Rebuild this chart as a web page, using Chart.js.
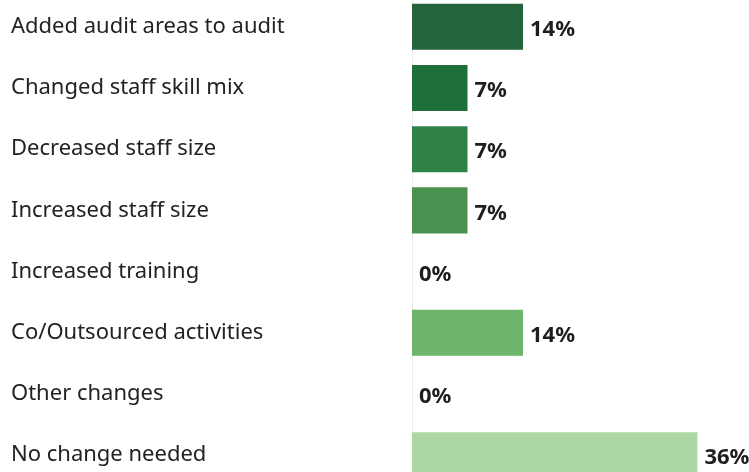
<!DOCTYPE html>
<html>
<head>
<meta charset="utf-8">
<script src="https://cdn.jsdelivr.net/npm/chart.js@4"></script>
<style>
    html, body { margin: 0; padding: 0; background: #fff; overflow: hidden; }
    #wrap { position: absolute; left: 0; top: -17px; width: 749px; height: 516px; }
</style>
</head>
<body>
<div id="wrap"><canvas id="changesChart"></canvas></div>
<script>
//################# Data #################
const categories = [
    'Added audit areas to audit',
    'Changed staff skill mix',
    'Decreased staff size',
    'Increased staff size',
    'Increased training',
    'Co/Outsourced activities',
    'Other changes',
    'No change needed',
];
const shares = [14, 7, 7, 7, 0, 14, 0, 36];
const barColors = ['#23643b', '#1f6f3a', '#2e8248', '#4a9250', '#5fa35c', '#6db56a', '#8dc782', '#acd7a2'];

//################# Value labels after each bar #################
const valueLabels = {
    id: 'valueLabels',
    afterDatasetsDraw(chart) {
        const ctx = chart.ctx;
        const meta = chart.getDatasetMeta(0);
        ctx.save();
        ctx.font = 'bold 22px "Noto Sans"';
        ctx.fillStyle = '#1e1e1e';
        ctx.textAlign = 'left';
        ctx.textBaseline = 'middle';
        meta.data.forEach((bar, i) => {
            ctx.fillText(shares[i] + '%', bar.x + 7, bar.y + 3);
        });
        ctx.restore();
    }
};

//################# Chart #################
new Chart(document.getElementById('changesChart'), {
    type: 'bar',
    data: {
        labels: categories,
        datasets: [{
            data: shares,
            backgroundColor: barColors,
            borderWidth: 0,
            categoryPercentage: 1,
            barPercentage: 0.753,
        }],
    },
    options: {
        indexAxis: 'y',
        responsive: true,
        maintainAspectRatio: false,
        animation: false,
        layout: { padding: { left: 11, right: 23, top: 0, bottom: 0 } },
        plugins: {
            legend: { display: false },
            tooltip: { enabled: false },
        },
        scales: {
            x: {
                display: false,
                min: 0,
                max: 39.6,
            },
            y: {
                grid: { display: false, drawTicks: false },
                border: { display: true, color: '#ededed', width: 1 },
                ticks: {
                    crossAlign: 'far',
                    padding: 0,
                    color: '#222',
                    font: { family: '"Noto Sans"', size: 22 },
                },
                afterFit: (axis) => { axis.width = 401; },
            },
        },
    },
    plugins: [valueLabels],
});
</script>
</body>
</html>
